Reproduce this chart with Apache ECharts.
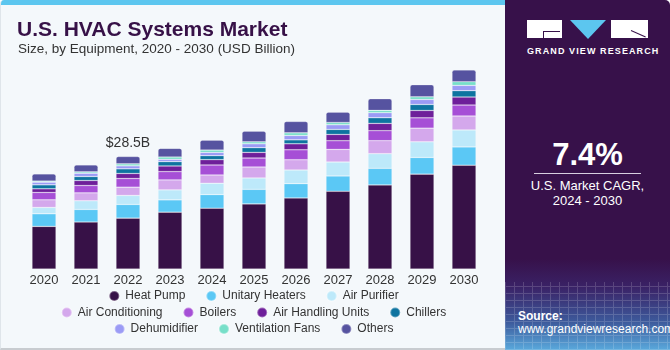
<!DOCTYPE html>
<html>
<head>
<meta charset="utf-8">
<script src="https://cdn.jsdelivr.net/npm/echarts@6/dist/echarts.min.js"></script>
<style>
    html, body { margin: 0; padding: 0; }
    body { width: 670px; height: 350px; position: relative; overflow: hidden; background: #ffffff; font-family: "Liberation Sans", Arial, sans-serif; }
    #left { position: absolute; left: 0; top: 0; width: 505px; height: 350px; background: #f4f8fb; box-sizing: border-box; border-left: 1px solid #dfe5ea; border-bottom: 2px solid #c8ccd0; border-top-left-radius: 4px; overflow: hidden; }
    #stripe { position: absolute; left: 0; top: 0; width: 505px; height: 5px; background: #5cc6ef; }
    #chart { position: absolute; left: 0; top: 0; width: 505px; height: 350px; }
    #right { position: absolute; left: 505px; top: 0; width: 165px; height: 350px; border-top-right-radius: 5px; overflow: hidden;
        background: linear-gradient(to bottom, #37114a 0%, #37114a 74%, #3a2266 82%, #3d5a9c 92%, #5aa9dc 100%); }
    #mesh { position: absolute; left: 0; top: 282px; width: 165px; height: 68px; opacity: 0.16;
        background-image: repeating-linear-gradient(90deg, #ffffff 0 1px, transparent 1px 9px), repeating-linear-gradient(0deg, #ffffff 0 1px, transparent 1px 7px); }
    .w { position: absolute; color: #ffffff; white-space: nowrap; }
</style>
</head>
<body>
<div id="left">
    <div id="chart"></div>
    <div id="stripe"></div>
</div>
<div id="right">
    <div id="mesh"></div>
    <!-- logo -->
    <div style="position:absolute;left:22px;top:20px;width:35px;height:18px;background:#fff;"></div>
    <div style="position:absolute;left:38px;top:31px;width:17px;height:1px;background:#37114a;"></div>
    <div style="position:absolute;left:38px;top:31px;width:1px;height:7px;background:#37114a;"></div>
    <div style="position:absolute;left:65px;top:20px;width:0;height:0;border-left:18px solid transparent;border-right:18px solid transparent;border-top:19px solid #5cc6ef;"></div>
    <div style="position:absolute;left:106px;top:20px;width:37px;height:18px;background:#fff;"></div>
    <div style="position:absolute;left:126px;top:30px;width:16px;height:1px;background:#37114a;transform:rotate(24deg);transform-origin:left center;"></div>
    <div class="w" style="left:22px;top:46px;width:120px;text-align:center;font-size:9px;font-weight:bold;letter-spacing:1.1px;">GRAND VIEW RESEARCH</div>
    <div class="w" style="left:0;top:137px;width:165px;text-align:center;font-size:31px;font-weight:bold;">7.4%</div>
    <div style="position:absolute;left:29px;top:173px;width:107px;height:1px;background:#d8cfe0;"></div>
    <div class="w" style="left:0;top:178px;width:165px;text-align:center;font-size:13px;">U.S. Market CAGR,</div>
    <div class="w" style="left:0;top:193px;width:165px;text-align:center;font-size:13px;">2024 - 2030</div>
    <div class="w" style="left:13px;top:309px;font-size:12px;font-weight:bold;">Source:</div>
    <div class="w" style="left:13px;top:322px;font-size:12px;">www.grandviewresearch.com</div>
</div>
<script>
    const years = ['2020', '2021', '2022', '2023', '2024', '2025', '2026', '2027', '2028', '2029', '2030'];

    // USD Billion
    const heatPump        = [10.8, 11.9, 12.9, 14.4, 15.4, 16.5, 18.0, 19.7, 21.3, 24.05, 26.3];
    const unitaryHeaters  = [3.2, 3.2, 3.46, 3.12, 3.46, 3.7, 3.63, 3.88, 4.22, 4.22, 4.64];
    const airPurifier     = [1.6, 2.2, 2.28, 2.53, 2.87, 2.87, 3.46, 3.54, 3.71, 3.97, 4.3];
    const airConditioning = [1.94, 2.0, 2.1, 2.53, 2.1, 2.78, 2.6, 3.2, 3.29, 3.46, 3.54];
    const boilers         = [1.86, 1.86, 2.2, 2.1, 2.53, 2.28, 2.53, 2.19, 2.53, 2.62, 2.78];
    const airHandling     = [0.93, 1.27, 1.27, 1.43, 1.35, 1.43, 1.52, 1.6, 1.86, 1.86, 2.03];
    const chillers        = [1.0, 1.0, 1.18, 1.1, 1.0, 1.18, 1.0, 1.27, 1.43, 1.52, 1.6];
    const dehumidifier    = [0.68, 0.84, 0.76, 0.59, 0.84, 1.0, 1.1, 1.18, 1.27, 1.27, 1.35];
    const ventilationFans = [0.25, 0.34, 0.5, 0.59, 0.59, 0.5, 0.68, 0.59, 0.59, 0.68, 0.93];
    const others          = [1.86, 1.77, 1.86, 2.19, 2.53, 2.7, 2.87, 2.62, 2.95, 3.04, 2.95];

    const LABEL_INDEX = 2;
    const LABEL_TEXT = '$28.5B';

    const SEGMENTS = [
        { name: 'Heat Pump', data: heatPump, color: '#371147' },
        { name: 'Unitary Heaters', data: unitaryHeaters, color: '#5bc8f5' },
        { name: 'Air Purifier', data: airPurifier, color: '#bde9fa' },
        { name: 'Air Conditioning', data: airConditioning, color: '#d4a8ec' },
        { name: 'Boilers', data: boilers, color: '#a64fd6' },
        { name: 'Air Handling Units', data: airHandling, color: '#6e1f9a' },
        { name: 'Chillers', data: chillers, color: '#0e74a0' },
        { name: 'Dehumidifier', data: dehumidifier, color: '#9b9bf5' },
        { name: 'Ventilation Fans', data: ventilationFans, color: '#77dfc9' },
        { name: 'Others', data: others, color: '#5653a0' }
    ];

    const legendRows = [
        ['Heat Pump', 'Unitary Heaters', 'Air Purifier'],
        ['Air Conditioning', 'Boilers', 'Air Handling Units', 'Chillers'],
        ['Dehumidifier', 'Ventilation Fans', 'Others']
    ];
    const legendTops = [290, 306.5, 323];

    const series = SEGMENTS.map((s, i) => {
        const last = i === SEGMENTS.length - 1;
        return {
            name: s.name,
            type: 'bar',
            stack: 'total',
            barWidth: 24,
            animation: false,
            itemStyle: {
                color: s.color,
                borderColor: 'rgba(255, 255, 255, 0.35)',
                borderWidth: 0.6,
                borderRadius: last ? [2, 2, 0, 0] : 0
            },
            data: s.data.map((v, j) => {
                if (last && j === LABEL_INDEX) {
                    return {
                        value: v,
                        label: {
                            show: true,
                            position: 'top',
                            distance: 6,
                            formatter: LABEL_TEXT,
                            fontSize: 14,
                            color: '#333333',
                            fontFamily: 'Liberation Sans'
                        }
                    };
                }
                return v;
            })
        };
    });

    const chart = echarts.init(document.getElementById('chart'));
    chart.setOption({
        textStyle: { fontFamily: 'Liberation Sans' },
        title: [{
            text: 'U.S. HVAC Systems Market',
            left: 16,
            top: 20,
            padding: 0,
            textStyle: { fontSize: 21, fontWeight: 'bold', color: '#371147' }
        }, {
            text: 'Size, by Equipment, 2020 - 2030 (USD Billion)',
            left: 17,
            top: 42,
            padding: 0,
            textStyle: { fontSize: 13.5, fontWeight: 'normal', color: '#333333' }
        }],
        legend: legendRows.map((row, k) => ({
            data: row,
            left: 'center',
            top: legendTops[k],
            padding: 0,
            icon: 'circle',
            itemWidth: 10,
            itemHeight: 10,
            itemGap: 20,
            selectedMode: false,
            textStyle: { fontSize: 12, color: '#333333', padding: [0, 0, 0, 1] }
        })),
        grid: { left: 22, right: 21, top: 52, bottom: 81 },
        xAxis: {
            type: 'category',
            data: years,
            axisLine: { show: false },
            axisTick: { show: false },
            axisLabel: { fontSize: 13, color: '#333333', margin: 5 }
        },
        yAxis: {
            type: 'value',
            min: 0,
            max: 55,
            show: false,
            splitLine: { show: false }
        },
        series: series
    });
</script>
</body>
</html>
